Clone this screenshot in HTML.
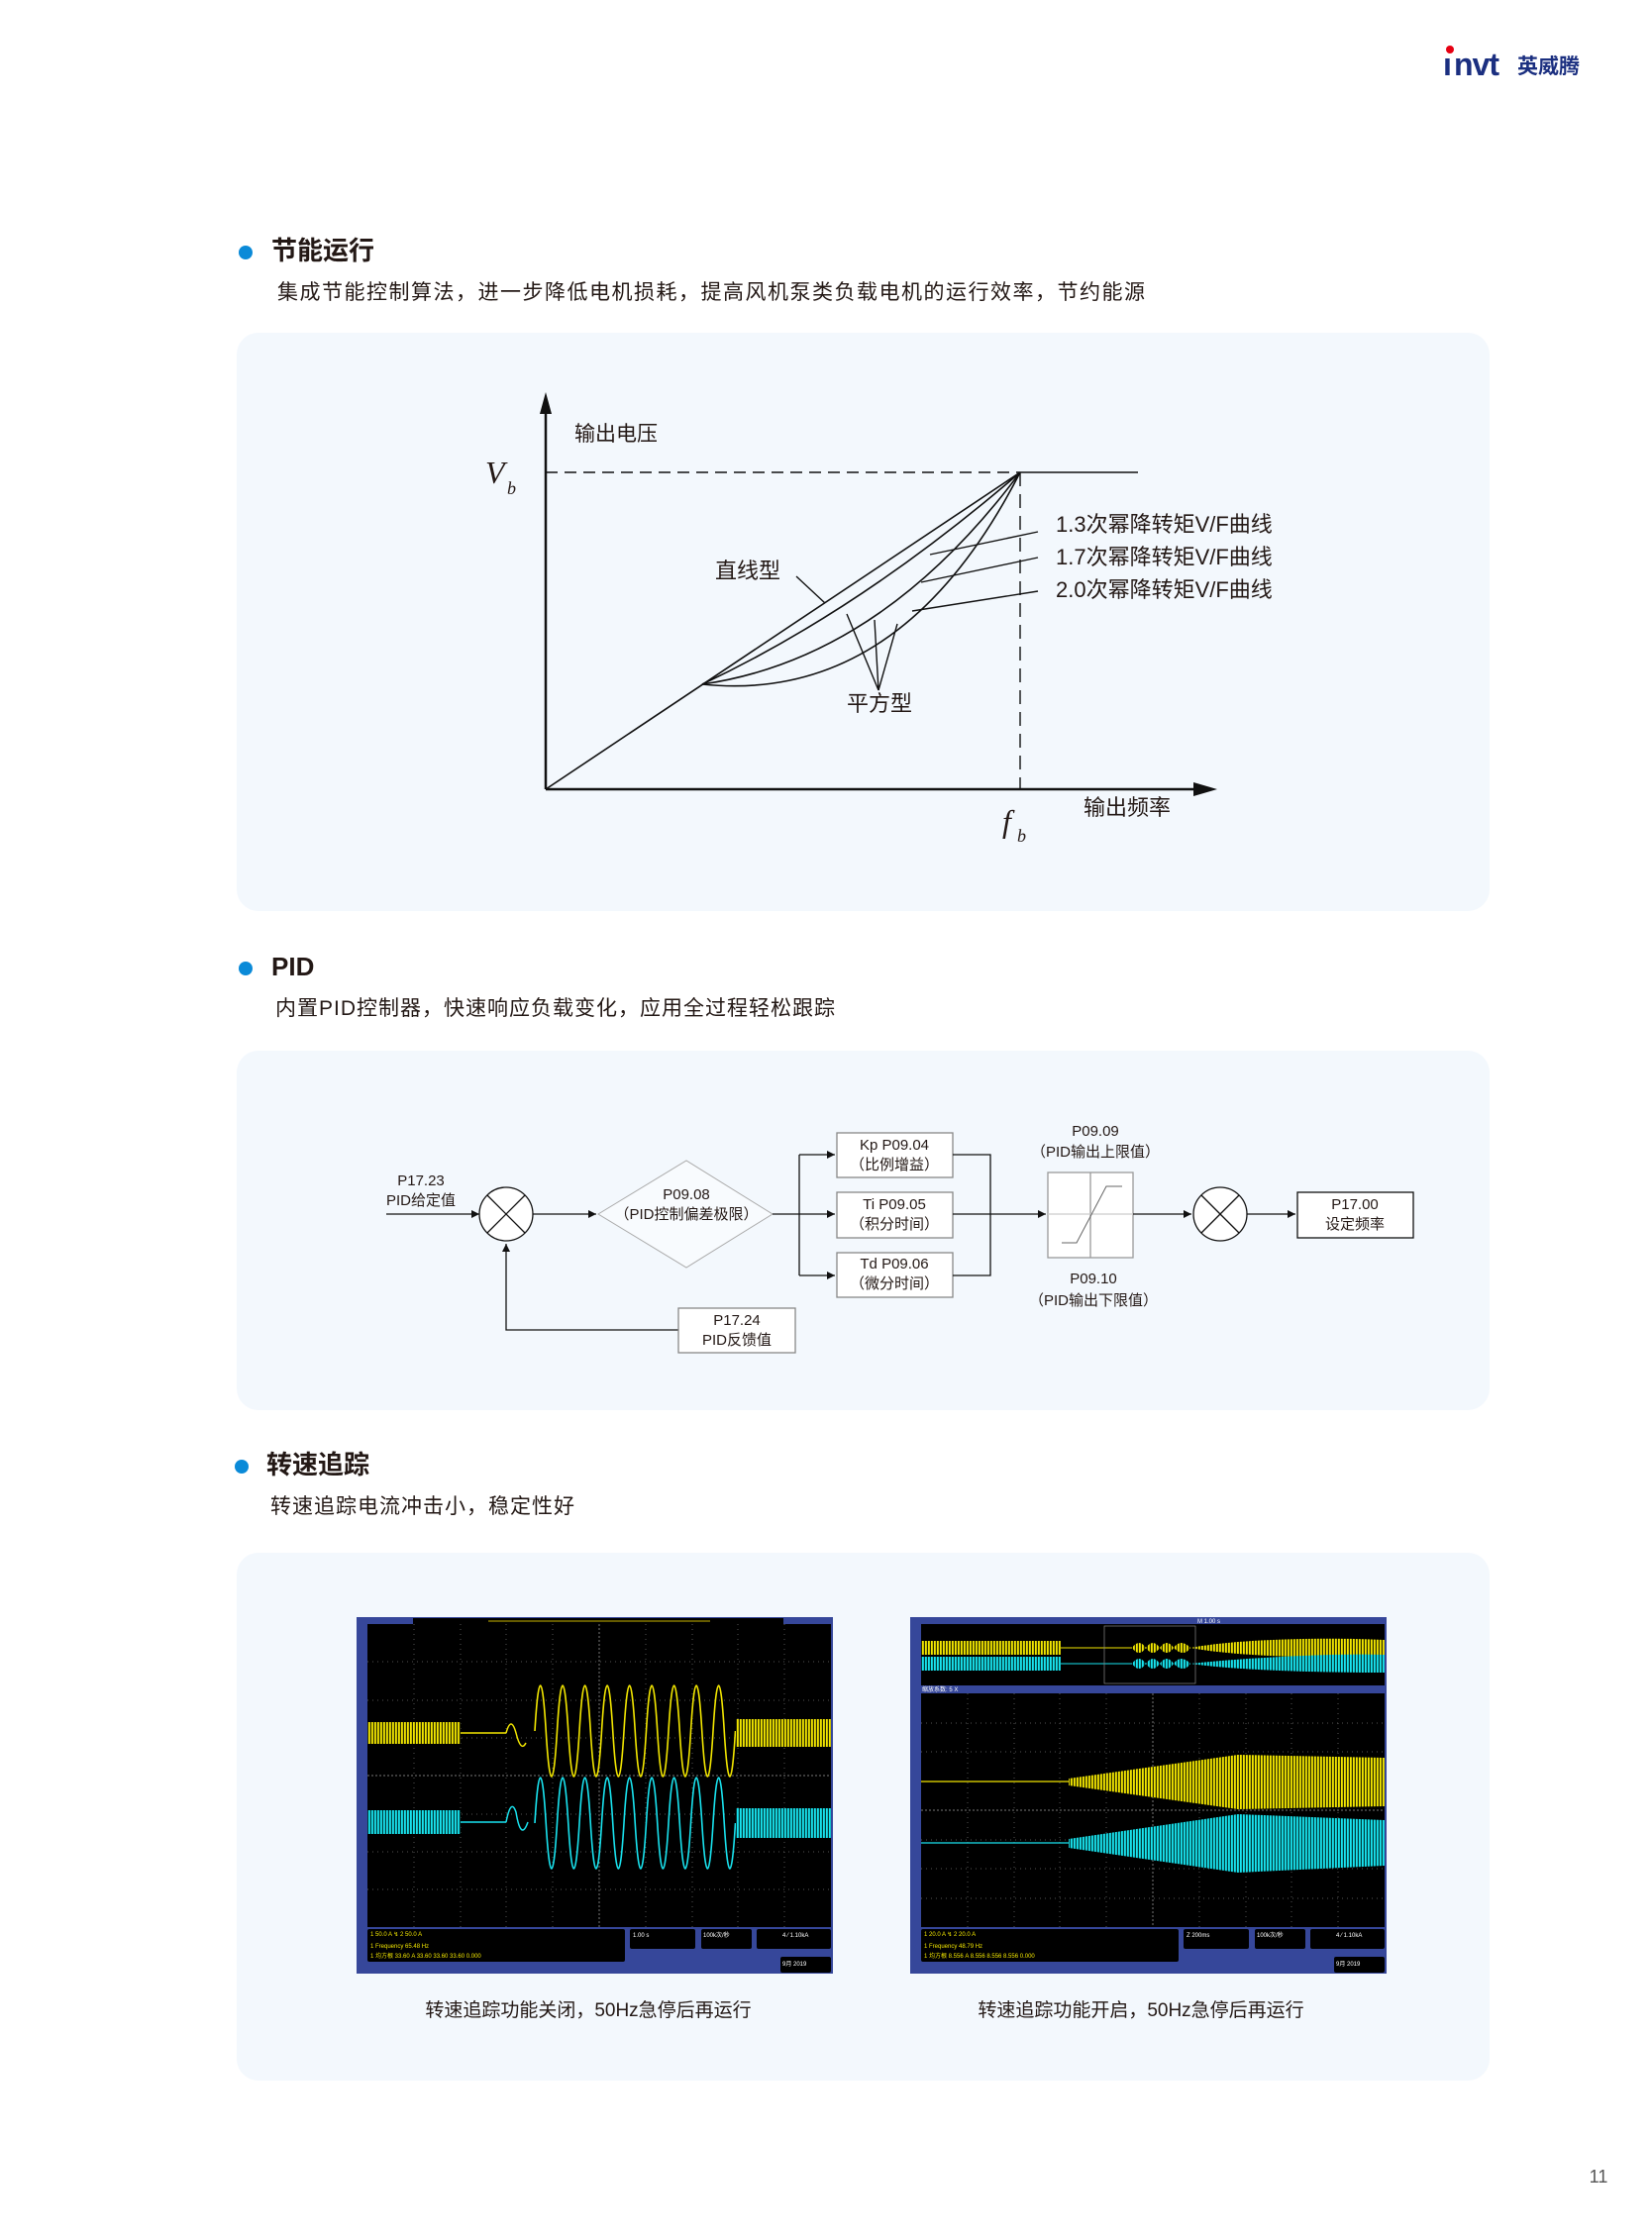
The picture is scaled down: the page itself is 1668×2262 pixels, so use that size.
<!DOCTYPE html>
<html><head><meta charset="utf-8">
<style>
html,body{margin:0;padding:0;background:#fff;}
body{width:1668px;height:2262px;overflow:hidden;}
svg{display:block;}
text{font-family:"Liberation Sans","Noto Sans CJK SC",sans-serif;fill:#231815;}
</style></head>
<body>
<svg width="1668" height="2262" viewBox="0 0 1668 2262" xmlns="http://www.w3.org/2000/svg">
<defs>
 <marker id="ah" viewBox="0 0 10 10" refX="10" refY="5" markerWidth="8" markerHeight="8" orient="auto" markerUnits="userSpaceOnUse"><path d="M0,0L10,5L0,10z" fill="#111"/></marker>
 <pattern id="py" width="3" height="10" patternUnits="userSpaceOnUse"><rect width="3" height="10" fill="#2a2a00"/><rect x="0" width="1.8" height="10" fill="#f2e600"/></pattern>
 <pattern id="pc" width="3" height="10" patternUnits="userSpaceOnUse"><rect width="3" height="10" fill="#003a3a"/><rect x="0" width="1.8" height="10" fill="#19e3ef"/></pattern>
</defs>

<!-- logo -->
<circle cx="1464" cy="50" r="4" fill="#e60012"/>
<text x="1457" y="76" font-size="32" font-weight="bold" style="fill:#1b2f80;letter-spacing:-1px">ı</text>
<text x="1468" y="76" font-size="32" font-weight="bold" style="fill:#1b2f80;letter-spacing:-1px">nvt</text>
<text x="1532" y="74" font-size="21" font-weight="bold" style="fill:#1b2f80">英威腾</text>

<!-- section 1 -->
<circle cx="248" cy="255" r="7" fill="#0a8ad8"/>
<text x="274" y="262" font-size="26" font-weight="bold">节能运行</text>
<text x="280" y="302" font-size="21" style="letter-spacing:1.5px">集成节能控制算法，进一步降低电机损耗，提高风机泵类负载电机的运行效率，节约能源</text>
<rect x="239" y="336" width="1265" height="584" rx="22" fill="#f3f8fd"/>

<!-- chart -->
<g stroke="#111" fill="none">
 <line x1="551" y1="797" x2="551" y2="410" stroke-width="2.5"/>
 <path d="M545,418L551,396L557,418z" fill="#111" stroke="none"/>
 <line x1="551" y1="797" x2="1205" y2="797" stroke-width="2.5"/>
 <path d="M1205,790L1229,797L1205,804z" fill="#111" stroke="none"/>
 <line x1="551" y1="477" x2="1030" y2="477" stroke-width="1.6" stroke-dasharray="12,7"/>
 <line x1="1030" y1="477" x2="1149" y2="477" stroke-width="1.6"/>
 <line x1="1030" y1="477" x2="1030" y2="797" stroke-width="1.4" stroke-dasharray="14,8"/>
 <line x1="551" y1="797" x2="1030" y2="477" stroke-width="1.6"/>
 <path d="M709,691 Q870,615 1030,477" stroke-width="1.6"/>
 <path d="M709,691 Q890,665 1030,477" stroke-width="1.6"/>
 <path d="M709,691 Q910,712 1030,477" stroke-width="1.6"/>
 <line x1="804" y1="582" x2="833" y2="609" stroke-width="1.4"/>
 <line x1="939" y1="560" x2="1048" y2="537" stroke-width="1.4"/>
 <line x1="930" y1="588" x2="1048" y2="563" stroke-width="1.4"/>
 <line x1="921" y1="617" x2="1048" y2="597" stroke-width="1.4"/>
 <polyline points="855,620 887,697 883,626" stroke-width="1.4"/>
 <line x1="887" y1="697" x2="906" y2="630" stroke-width="1.4"/>
</g>
<text x="580" y="445" font-size="21">输出电压</text>
<text x="490" y="488" font-size="32" font-style="italic" style="font-family:'Liberation Serif',serif">V</text>
<text x="512" y="499" font-size="18" font-style="italic" style="font-family:'Liberation Serif',serif">b</text>
<text x="722" y="584" font-size="22">直线型</text>
<text x="1066" y="537" font-size="22">1.3次幂降转矩V/F曲线</text>
<text x="1066" y="570" font-size="22">1.7次幂降转矩V/F曲线</text>
<text x="1066" y="603" font-size="22">2.0次幂降转矩V/F曲线</text>
<text x="855" y="718" font-size="22">平方型</text>
<text x="1094" y="823" font-size="22">输出频率</text>
<text x="1012" y="840" font-size="32" font-style="italic" style="font-family:'Liberation Serif',serif">f</text>
<text x="1027" y="850" font-size="18" font-style="italic" style="font-family:'Liberation Serif',serif">b</text>

<!-- section 2 -->
<circle cx="248" cy="978" r="7" fill="#0a8ad8"/>
<text x="274" y="985" font-size="26" font-weight="bold">PID</text>
<text x="278" y="1025" font-size="21" style="letter-spacing:1px">内置PID控制器，快速响应负载变化，应用全过程轻松跟踪</text>
<rect x="239" y="1061" width="1265" height="363" rx="22" fill="#f3f8fd"/>

<g stroke="#111" fill="none" stroke-width="1.3">
 <line x1="390" y1="1226" x2="484" y2="1226" marker-end="url(#ah)"/>
 <circle cx="511" cy="1226" r="27" fill="#fff"/>
 <line x1="492" y1="1207" x2="530" y2="1245"/><line x1="530" y1="1207" x2="492" y2="1245"/>
 <line x1="538" y1="1226" x2="602" y2="1226" marker-end="url(#ah)"/>
 <path d="M604,1226L693,1172L780,1226L693,1280z" stroke="#aaa" stroke-width="1" fill="#f8fbfe"/>
 <polyline points="780,1226 807,1226"/>
 <line x1="807" y1="1166" x2="807" y2="1288"/>
 <line x1="807" y1="1166" x2="843" y2="1166" marker-end="url(#ah)"/>
 <line x1="807" y1="1226" x2="843" y2="1226" marker-end="url(#ah)"/>
 <line x1="807" y1="1288" x2="843" y2="1288" marker-end="url(#ah)"/>
 <rect x="845" y="1144" width="117" height="45" stroke="#888" fill="#fff"/>
 <rect x="845" y="1204" width="117" height="46" stroke="#888" fill="#fff"/>
 <rect x="845" y="1265" width="117" height="45" stroke="#888" fill="#fff"/>
 <polyline points="962,1166 1000,1166 1000,1288 962,1288"/>
 <line x1="962" y1="1226" x2="1056" y2="1226" marker-end="url(#ah)"/>
 <rect x="1058" y="1184" width="86" height="86" stroke="#999" fill="#fff"/>
 <line x1="1101" y1="1184" x2="1101" y2="1270" stroke="#999"/>
 <line x1="1058" y1="1226" x2="1144" y2="1226" stroke="#ccc"/>
 <polyline points="1072,1255 1087,1255 1117,1198 1133,1198" stroke="#666" stroke-width="1"/>
 <line x1="1144" y1="1226" x2="1203" y2="1226" marker-end="url(#ah)"/>
 <circle cx="1232" cy="1226" r="27" fill="#fff"/>
 <line x1="1213" y1="1207" x2="1251" y2="1245"/><line x1="1251" y1="1207" x2="1213" y2="1245"/>
 <line x1="1259" y1="1226" x2="1308" y2="1226" marker-end="url(#ah)"/>
 <rect x="1310" y="1204" width="117" height="46" stroke="#111" fill="#fff"/>
 <polyline points="685,1343 511,1343 511,1256" marker-end="url(#ah)"/>
 <rect x="685" y="1321" width="118" height="45" stroke="#888" fill="#fff"/>
</g>
<g font-size="15" text-anchor="middle">
 <text x="425" y="1197">P17.23</text><text x="425" y="1217">PID给定值</text>
 <text x="693" y="1211">P09.08</text><text x="693" y="1231">（PID控制偏差极限）</text>
 <text x="903" y="1161">Kp P09.04</text><text x="903" y="1181">（比例增益）</text>
 <text x="903" y="1221">Ti  P09.05</text><text x="903" y="1241">（积分时间）</text>
 <text x="903" y="1281">Td P09.06</text><text x="903" y="1301">（微分时间）</text>
 <text x="1106" y="1147">P09.09</text><text x="1106" y="1168">（PID输出上限值）</text>
 <text x="1104" y="1296">P09.10</text><text x="1104" y="1318">（PID输出下限值）</text>
 <text x="1368" y="1221">P17.00</text><text x="1368" y="1241">设定频率</text>
 <text x="744" y="1338">P17.24</text><text x="744" y="1358">PID反馈值</text>
</g>

<!-- section 3 -->
<circle cx="244" cy="1481" r="7" fill="#0a8ad8"/>
<text x="269" y="1488" font-size="26" font-weight="bold">转速追踪</text>
<text x="273" y="1528" font-size="21" style="letter-spacing:1px">转速追踪电流冲击小，稳定性好</text>
<rect x="239" y="1568" width="1265" height="533" rx="22" fill="#f3f8fd"/>

<!-- scope 1 -->
<g transform="translate(360,1633)">
 <rect width="481" height="360" fill="#36479a"/>
 <rect x="57" y="1" width="374" height="6" fill="#000"/>
 <line x1="133" y1="4" x2="357" y2="4" stroke="#c8b400"/>
 <rect x="11" y="7" width="468" height="306" fill="#000"/>
 <g stroke="#555" stroke-width="1" stroke-dasharray="1,4">
  <line x1="58" y1="7" x2="58" y2="313"/><line x1="105" y1="7" x2="105" y2="313"/><line x1="151" y1="7" x2="151" y2="313"/><line x1="198" y1="7" x2="198" y2="313"/><line x1="292" y1="7" x2="292" y2="313"/><line x1="339" y1="7" x2="339" y2="313"/><line x1="385" y1="7" x2="385" y2="313"/><line x1="432" y1="7" x2="432" y2="313"/>
  <line x1="11" y1="45" x2="479" y2="45"/><line x1="11" y1="84" x2="479" y2="84"/><line x1="11" y1="122" x2="479" y2="122"/><line x1="11" y1="199" x2="479" y2="199"/><line x1="11" y1="237" x2="479" y2="237"/><line x1="11" y1="275" x2="479" y2="275"/>
 </g>
 <line x1="245" y1="7" x2="245" y2="313" stroke="#777" stroke-dasharray="2,2"/>
 <line x1="11" y1="160" x2="479" y2="160" stroke="#777" stroke-dasharray="2,2"/>
 <rect x="11" y="106" width="94" height="22" fill="url(#py)"/>
 <line x1="105" y1="117" x2="151" y2="117" stroke="#f2e600" stroke-width="1.5"/>
 <path d="M151,117 q5,-18 10,0 q5,20 10,10" stroke="#f2e600" stroke-width="1.5" fill="none"/>
 <path d="M180,115 q5.6,-92 11.25,0 t11.25,0 t11.25,0 t11.25,0 t11.25,0 t11.25,0 t11.25,0 t11.25,0 t11.25,0 t11.25,0 t11.25,0 t11.25,0 t11.25,0 t11.25,0 t11.25,0 t11.25,0 t11.25,0 t11.25,0" stroke="#f2e600" stroke-width="1.6" fill="none"/>
 <rect x="383" y="103" width="96" height="28" fill="url(#py)"/>
 <rect x="11" y="195" width="94" height="24" fill="url(#pc)"/>
 <line x1="105" y1="207" x2="151" y2="207" stroke="#19e3ef" stroke-width="1.5"/>
 <path d="M151,207 q5,-25 10,-10 q5,30 12,10" stroke="#19e3ef" stroke-width="1.5" fill="none"/>
 <path d="M180,208 q5.6,-92 11.25,0 t11.25,0 t11.25,0 t11.25,0 t11.25,0 t11.25,0 t11.25,0 t11.25,0 t11.25,0 t11.25,0 t11.25,0 t11.25,0 t11.25,0 t11.25,0 t11.25,0 t11.25,0 t11.25,0 t11.25,0" stroke="#19e3ef" stroke-width="1.6" fill="none"/>
 <rect x="383" y="193" width="96" height="30" fill="url(#pc)"/>
 <rect x="11" y="315" width="260" height="33" rx="2" fill="#000"/>
 <rect x="276" y="315" width="66" height="20" rx="2" fill="#000"/>
 <rect x="348" y="315" width="51" height="20" rx="2" fill="#000"/>
 <rect x="404" y="315" width="75" height="20" rx="2" fill="#000"/>
 <rect x="428" y="343" width="51" height="16" rx="2" fill="#000"/>
 <g font-size="6"><text x="14" y="322" style="fill:#f2e600">1  50.0 A  ↯  2  50.0 A</text><text x="14" y="334" style="fill:#f2e600">1 Frequency  65.48 Hz</text><text x="14" y="344" style="fill:#f2e600">1 均方根  33.60 A  33.60  33.60  33.60  0.000</text><text x="279" y="323" style="fill:#fff">1.00 s</text><text x="350" y="323" style="fill:#fff">100k次/秒</text><text x="430" y="323" style="fill:#fff">4 ⁄ 1.10kA</text><text x="430" y="352" style="fill:#fff">9月 2019</text></g>
</g>

<!-- scope 2 -->
<g transform="translate(919,1633)">
 <rect width="481" height="360" fill="#36479a"/>
 <rect x="11" y="7" width="468" height="62" fill="#000"/>
 <rect x="11" y="24" width="141" height="14" fill="url(#py)"/>
 <line x1="152" y1="31" x2="224" y2="31" stroke="#f2e600"/>
 <path d="M224,31 q7,-10 14,0 q7,-10 14,0 q7,-10 14,0 q7,-10 17,0 q-7,10 -17,0 q-7,10 -14,0 q-7,10 -14,0 q-7,10 -14,0z" fill="url(#py)"/>
 <path d="M283,31 C330,22 420,20 479,23 L479,39 C420,42 330,40 283,31z" fill="url(#py)"/>
 <rect x="11" y="40" width="141" height="14" fill="url(#pc)"/>
 <line x1="152" y1="47" x2="224" y2="47" stroke="#19e3ef"/>
 <path d="M224,47 q7,-10 14,0 q7,-10 14,0 q7,-10 14,0 q7,-10 17,0 q-7,10 -17,0 q-7,10 -14,0 q-7,10 -14,0 q-7,10 -14,0z" fill="url(#pc)"/>
 <path d="M283,47 C330,42 420,36 479,38 L479,56 C420,56 330,54 283,47z" fill="url(#pc)"/>
 <rect x="196" y="9" width="92" height="58" fill="none" stroke="#888" stroke-width="0.7"/>
 <text x="290" y="6" font-size="6" style="fill:#fff">M 1.00 s</text>
 <text x="12" y="75" font-size="6" style="fill:#fff">缩放系数: 5 X</text>
 <rect x="11" y="77" width="468" height="236" fill="#000"/>
 <g stroke="#555" stroke-width="1" stroke-dasharray="1,4">
  <line x1="58" y1="77" x2="58" y2="313"/><line x1="105" y1="77" x2="105" y2="313"/><line x1="151" y1="77" x2="151" y2="313"/><line x1="198" y1="77" x2="198" y2="313"/><line x1="292" y1="77" x2="292" y2="313"/><line x1="339" y1="77" x2="339" y2="313"/><line x1="385" y1="77" x2="385" y2="313"/><line x1="432" y1="77" x2="432" y2="313"/>
  <line x1="11" y1="107" x2="479" y2="107"/><line x1="11" y1="136" x2="479" y2="136"/><line x1="11" y1="166" x2="479" y2="166"/><line x1="11" y1="225" x2="479" y2="225"/><line x1="11" y1="254" x2="479" y2="254"/><line x1="11" y1="284" x2="479" y2="284"/>
 </g>
 <line x1="245" y1="77" x2="245" y2="313" stroke="#777" stroke-dasharray="2,2"/>
 <line x1="11" y1="195" x2="479" y2="195" stroke="#777" stroke-dasharray="2,2"/>
 <line x1="11" y1="166" x2="160" y2="166" stroke="#f2e600" stroke-width="1.3"/>
 <path d="M160,163 L331,139 L479,142 L479,191 L331,194 L160,170z" fill="url(#py)"/>
 <line x1="11" y1="228" x2="160" y2="228" stroke="#19e3ef" stroke-width="1.3"/>
 <path d="M160,224 L331,199 L479,205 L479,251 L331,258 L160,233z" fill="url(#pc)"/>
 <rect x="11" y="315" width="260" height="33" rx="2" fill="#000"/>
 <rect x="276" y="315" width="66" height="20" rx="2" fill="#000"/>
 <rect x="348" y="315" width="51" height="20" rx="2" fill="#000"/>
 <rect x="404" y="315" width="75" height="20" rx="2" fill="#000"/>
 <rect x="428" y="343" width="51" height="16" rx="2" fill="#000"/>
 <g font-size="6"><text x="14" y="322" style="fill:#f2e600">1  20.0 A  ↯  2  20.0 A</text><text x="14" y="334" style="fill:#f2e600">1 Frequency  48.79 Hz</text><text x="14" y="344" style="fill:#f2e600">1 均方根  8.556 A  8.556  8.556  8.556  0.000</text><text x="279" y="323" style="fill:#fff">Z 200ms</text><text x="350" y="323" style="fill:#fff">100k次/秒</text><text x="430" y="323" style="fill:#fff">4 ⁄ 1.10kA</text><text x="430" y="352" style="fill:#fff">9月 2019</text></g>
</g>

<text x="594" y="2036" font-size="19" text-anchor="middle">转速追踪功能关闭，50Hz急停后再运行</text>
<text x="1152" y="2036" font-size="19" text-anchor="middle">转速追踪功能开启，50Hz急停后再运行</text>

<text x="1614" y="2204" font-size="18" text-anchor="middle" style="fill:#555">11</text>
</svg>
</body></html>
